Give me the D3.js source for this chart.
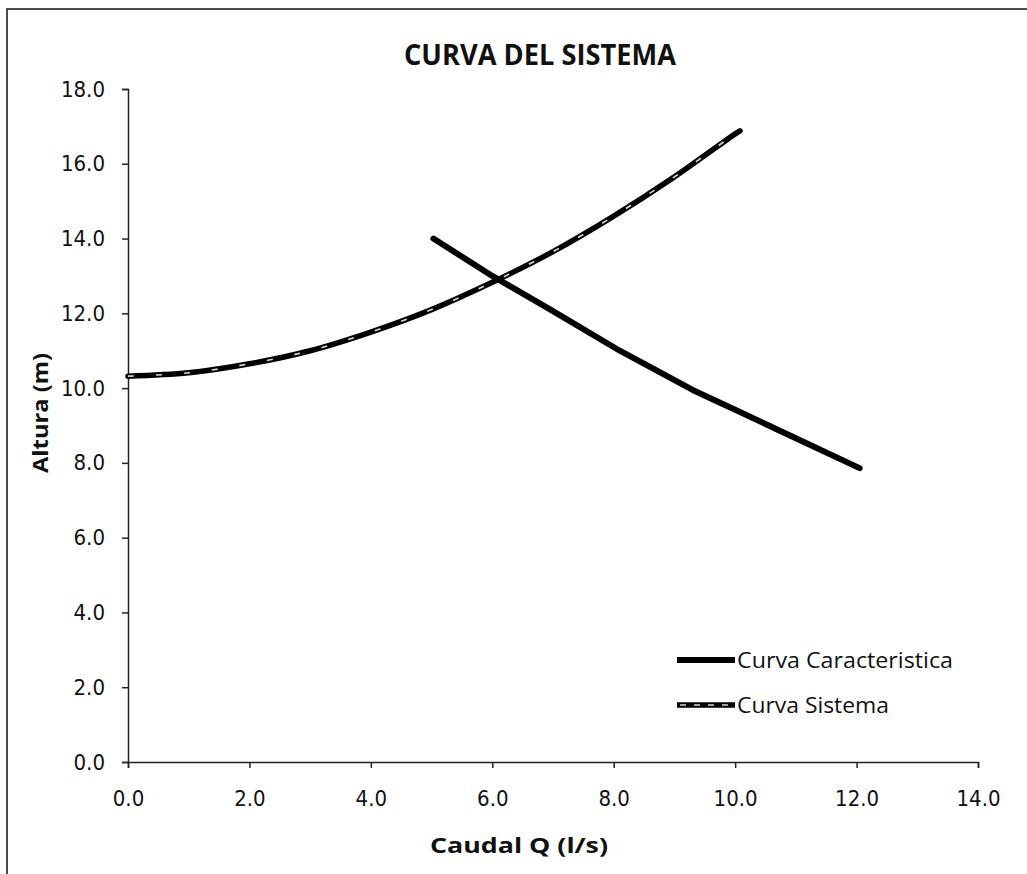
<!DOCTYPE html>
<html><head><meta charset="utf-8">
<script src="https://cdn.jsdelivr.net/npm/d3@7"></script>
<style>body{margin:0;background:#fff}svg{display:block}</style>
</head><body>
<svg id="c" width="1027" height="874"></svg>
<script>
const chartTitle = "CURVA DEL SISTEMA";
const xLabel = "Caudal Q (l/s)";
const yLabel = "Altura (m)";
const seriesNames = ["Curva Caracteristica", "Curva Sistema"];
const xTicks = [0, 2, 4, 6, 8, 10, 12, 14];
const yTicks = [0, 2, 4, 6, 8, 10, 12, 14, 16, 18];
// Curva Caracteristica (pump)
const caracQ = [5.03, 6.0, 7.0, 8.1, 9.3, 10.0, 11.0, 12.05];
const caracH = [14.0, 13.0, 12.06, 11.0, 9.95, 9.42, 8.66, 7.86];
// Curva Sistema
const sistQ = [0, 1, 2, 3, 4, 5, 6, 7, 8, 9, 10, 10.08];
const sistH = [10.32, 10.41, 10.65, 11.0, 11.5, 12.1, 12.83, 13.65, 14.6, 15.65, 16.8, 16.88];

const svg = d3.select("#c");
const x = d3.scaleLinear().domain([0, 14]).range([128, 978]);
const y = d3.scaleLinear().domain([0, 18]).range([762, 89]);

// frame
svg.append("rect").attr("x", 7).attr("y", 9).attr("width", 1040).attr("height", 900)
  .attr("fill", "none").attr("stroke", "#111").attr("stroke-width", 1.5);

// axes
const fmt = d3.format(".1f");
const xAxis = svg.append("g").attr("transform", `translate(0,${y(0)})`)
  .call(d3.axisBottom(x).tickValues(xTicks).tickFormat(fmt).tickSize(6).tickPadding(22));
const yAxis = svg.append("g").attr("transform", `translate(${x(0)},0)`)
  .call(d3.axisLeft(y).tickValues(yTicks).tickFormat(fmt).tickSize(6).tickPadding(17));
[xAxis, yAxis].forEach(a => {
  a.select(".domain").attr("stroke", "#222").attr("stroke-width", 1.5);
  a.selectAll(".tick line").attr("stroke", "#222").attr("stroke-width", 1.5);
  a.selectAll("text").attr("font-family", "DejaVu Sans Condensed, DejaVu Sans, sans-serif")
    .attr("font-stretch", "condensed")
    .attr("font-size", 22).attr("fill", "#111");
});

// title
svg.append("text").attr("x", 540).attr("y", 65).attr("text-anchor", "middle")
  .attr("font-family", "Open Sans, Liberation Sans, sans-serif").attr("font-weight", "bold")
  .attr("font-size", 28).attr("textLength", 272).attr("lengthAdjust", "spacingAndGlyphs")
  .attr("fill", "#111").text(chartTitle);
// axis titles
svg.append("text").attr("x", 519).attr("y", 853).attr("text-anchor", "middle")
  .attr("font-family", "Open Sans, Liberation Sans, sans-serif").attr("font-weight", "bold")
  .attr("font-size", 22).attr("textLength", 178).attr("lengthAdjust", "spacingAndGlyphs")
  .attr("fill", "#111").text(xLabel);
svg.append("text").attr("transform", "translate(48,413) rotate(-90)").attr("text-anchor", "middle")
  .attr("font-family", "Open Sans, Liberation Sans, sans-serif").attr("font-weight", "bold")
  .attr("font-size", 22).attr("textLength", 120).attr("lengthAdjust", "spacingAndGlyphs")
  .attr("fill", "#111").text(yLabel);

// lines
const sistData = sistQ.map((q, i) => [q, sistH[i]]);
const caracData = caracQ.map((q, i) => [q, caracH[i]]);
const smoothLine = d3.line().x(d => x(d[0])).y(d => y(d[1])).curve(d3.curveCatmullRom);
const straightLine = d3.line().x(d => x(d[0])).y(d => y(d[1]));
svg.append("path").attr("d", smoothLine(sistData))
  .attr("fill", "none").attr("stroke", "#000").attr("stroke-width", 5.5).attr("stroke-linecap", "round");
svg.append("path").attr("d", smoothLine(sistData))
  .attr("fill", "none").attr("stroke", "#d8d8d8").attr("stroke-width", 1.6).attr("stroke-dasharray", "6,22");
svg.append("path").attr("d", straightLine(caracData))
  .attr("fill", "none").attr("stroke", "#000").attr("stroke-width", 6).attr("stroke-linecap", "round")
  .attr("stroke-linejoin", "round");

// legend
const leg = svg.append("g");
const legY = [660, 705];
leg.append("line").attr("x1", 677).attr("x2", 735).attr("y1", legY[0]).attr("y2", legY[0])
  .attr("stroke", "#000").attr("stroke-width", 6);
leg.append("line").attr("x1", 677).attr("x2", 735).attr("y1", legY[1]).attr("y2", legY[1])
  .attr("stroke", "#000").attr("stroke-width", 5.5);
leg.append("line").attr("x1", 680).attr("x2", 733).attr("y1", legY[1]).attr("y2", legY[1])
  .attr("stroke", "#d8d8d8").attr("stroke-width", 1.6).attr("stroke-dasharray", "6,8");
const legLen = [216, 152];
seriesNames.forEach((n, i) => {
  leg.append("text").attr("x", 737).attr("y", legY[i] + 8)
    .attr("font-family", "Open Sans, Liberation Sans, sans-serif").attr("font-size", 21)
    .attr("textLength", legLen[i]).attr("lengthAdjust", "spacingAndGlyphs")
    .attr("fill", "#111").text(n);
});
</script>
</body></html>
